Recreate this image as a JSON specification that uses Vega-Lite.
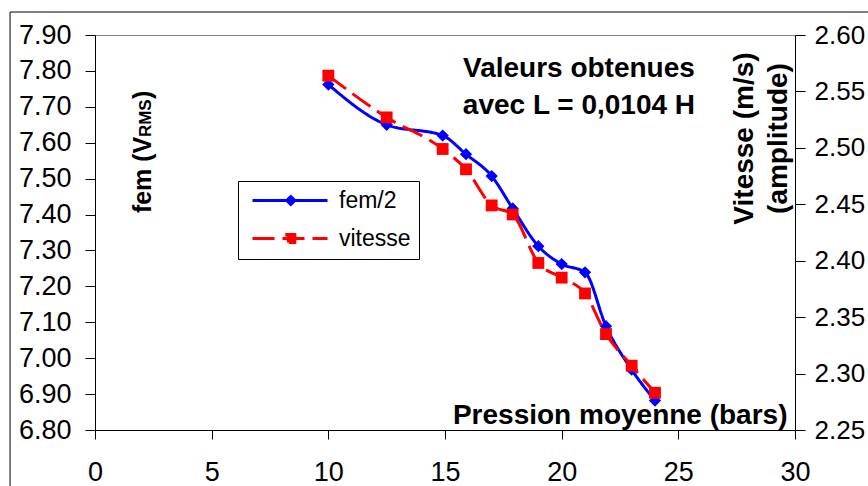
{
  "$schema": "https://vega.github.io/schema/vega-lite/v6.json",
  "width": 700,
  "height": 395,
  "autosize": {"type": "none"},
  "padding": {"left": 95, "top": 35, "right": 73, "bottom": 56},
  "background": "white",
  "config": {
    "font": "Liberation Sans",
    "view": {"stroke": "#808080", "strokeWidth": 1},
    "axis": {"grid": false, "domainColor": "black", "tickColor": "black", "labelColor": "black", "labelFontSize": 27, "labelFont": "Liberation Sans", "labelOverlap": false, "labelSeparation": -20, "titleColor": "black", "titleFont": "Liberation Sans", "domainWidth": 1, "tickWidth": 1}
  },
  "data": {"values": [
    {"p": 10, "fem": 7.762, "vit": 2.564},
    {"p": 12.5, "fem": 7.650, "vit": 2.527},
    {"p": 14.9, "fem": 7.620, "vit": 2.499},
    {"p": 15.9, "fem": 7.568, "vit": 2.481},
    {"p": 17, "fem": 7.507, "vit": 2.449},
    {"p": 17.9, "fem": 7.417, "vit": 2.441},
    {"p": 19, "fem": 7.312, "vit": 2.398},
    {"p": 20, "fem": 7.262, "vit": 2.385},
    {"p": 21, "fem": 7.239, "vit": 2.371},
    {"p": 21.9, "fem": 7.089, "vit": 2.335},
    {"p": 23, "fem": 6.968, "vit": 2.307},
    {"p": 24, "fem": 6.882, "vit": 2.283}
  ]},
  "layer": [
    {
      "layer": [
        {
          "data": {"values": [{}]},
          "mark": {"type": "rect", "fillOpacity": 0, "stroke": "black", "strokeWidth": 1, "clip": false},
          "encoding": {
            "x": {"datum": -3.64, "type": "quantitative"},
            "x2": {"datum": 37},
            "y": {"datum": 7.964, "type": "quantitative"},
            "y2": {"datum": 6.5}
          }
        },
        {
          "mark": {"type": "line", "strokeWidth": 3, "interpolate": "monotone"},
          "encoding": {
            "x": {"field": "p", "type": "quantitative", "scale": {"domain": [0, 30], "nice": false, "zero": false},
              "axis": {"values": [0, 5, 10, 15, 20, 25, 30], "tickSize": 9, "labelPadding": 20, "labelFlush": false, "labelOverlap": false,
                "title": "Pression moyenne (bars)", "titleFontSize": 28, "titleFontWeight": "bold", "titleAlign": "right", "titleAnchor": "end", "titleX": 692, "titleY": -7, "titleBaseline": "alphabetic"}},
            "y": {"field": "fem", "type": "quantitative", "scale": {"domain": [6.8, 7.9], "nice": false, "zero": false},
              "axis": {"tickCount": 11, "format": ".2f", "tickSize": 10, "labelPadding": 14, "labelOverlap": false, "labelSeparation": -20, "labelFontSize": 27, "title": null}},
            "stroke": {"datum": "fem/2", "type": "nominal", "scale": {"domain": ["fem/2", "vitesse"], "range": ["#0000FF", "#FF0000"]},
              "legend": {"title": null, "orient": "none", "legendX": 143, "legendY": 146, "direction": "vertical", "symbolSize": 100, "symbolStrokeWidth": 3, "labelFontSize": 23, "labelOffset": 70, "labelColor": "black", "strokeColor": "#000000", "fillColor": "white", "padding": 8, "rowPadding": 14,
                "encode": {"symbols": {"update": {
                  "shape": {"signal": "datum.value === 'fem/2' ? 'M-1,0L14,0M6.66,-0.8L7.46,0L6.66,0.8L5.86,0Z' : 'M-1,0L14,0M5.86,-0.8L7.46,-0.8L7.46,0.8L5.86,0.8Z'"},
                  "fill": {"signal": "datum.value === 'fem/2' ? '#0000FF' : '#FF0000'"},
                  "fillOpacity": {"value": 1},
                  "opacity": {"value": 1}}}}}},
            "strokeDash": {"datum": "fem/2", "type": "nominal", "scale": {"domain": ["fem/2", "vitesse"], "range": [[1, 0], [22, 8]]}}
          }
        },
        {
          "mark": {"type": "point", "shape": "diamond", "filled": true, "size": 150, "color": "#0000FF", "opacity": 1},
          "encoding": {"x": {"field": "p", "type": "quantitative"}, "y": {"field": "fem", "type": "quantitative"}}
        },
        {
          "data": {"values": [{}]},
          "mark": {"type": "text", "text": ["Valeurs obtenues", "avec L = 0,0104 H"], "fontSize": 28, "fontWeight": "bold", "align": "center", "baseline": "alphabetic", "lineHeight": 37, "color": "black"},
          "encoding": {"x": {"datum": 20.74, "type": "quantitative"}, "y": {"datum": 7.784, "type": "quantitative"}}
        },
        {
          "data": {"values": [{}]},
          "mark": {"type": "text", "text": "fem (V", "angle": 270, "align": "left", "baseline": "alphabetic", "fontSize": 25, "fontWeight": "bold", "color": "black"},
          "encoding": {"x": {"datum": 2.421, "type": "quantitative"}, "y": {"datum": 7.404, "type": "quantitative"}}
        },
        {
          "data": {"values": [{}]},
          "mark": {"type": "text", "text": "RMS", "angle": 270, "align": "left", "baseline": "alphabetic", "fontSize": 17, "fontWeight": "bold", "dx": 76, "color": "black"},
          "encoding": {"x": {"datum": 2.421, "type": "quantitative"}, "y": {"datum": 7.404, "type": "quantitative"}}
        },
        {
          "data": {"values": [{}]},
          "mark": {"type": "text", "text": ")", "angle": 270, "align": "left", "baseline": "alphabetic", "fontSize": 25, "fontWeight": "bold", "dx": 114, "color": "black"},
          "encoding": {"x": {"datum": 2.421, "type": "quantitative"}, "y": {"datum": 7.404, "type": "quantitative"}}
        }
      ]
    },
    {
      "layer": [
        {
          "mark": {"type": "line", "strokeWidth": 3, "interpolate": "monotone"},
          "encoding": {
            "x": {"field": "p", "type": "quantitative"},
            "y": {"field": "vit", "type": "quantitative", "scale": {"domain": [2.25, 2.6], "nice": false, "zero": false},
              "axis": {"orient": "right", "values": [2.25, 2.3, 2.35, 2.4, 2.45, 2.5, 2.55, 2.6], "format": ".2f", "tickSize": 10, "labelPadding": 9, "labelFontSize": 26, "labelOverlap": false,
                "title": ["Vitesse (m/s)", "(amplitude)"], "titleAngle": 270, "titleX": -43, "titleY": 103, "titleAlign": "center", "titleBaseline": "alphabetic", "titleFontSize": 28, "titleFontWeight": "bold", "titleLineHeight": 34}},
            "stroke": {"datum": "vitesse", "type": "nominal"},
            "strokeDash": {"datum": "vitesse", "type": "nominal"}
          }
        },
        {
          "mark": {"type": "point", "shape": "square", "filled": true, "size": 140, "color": "#FF0000", "opacity": 1},
          "encoding": {"x": {"field": "p", "type": "quantitative"}, "y": {"field": "vit", "type": "quantitative"}}
        }
      ]
    }
  ],
  "resolve": {"scale": {"y": "independent"}}
}
